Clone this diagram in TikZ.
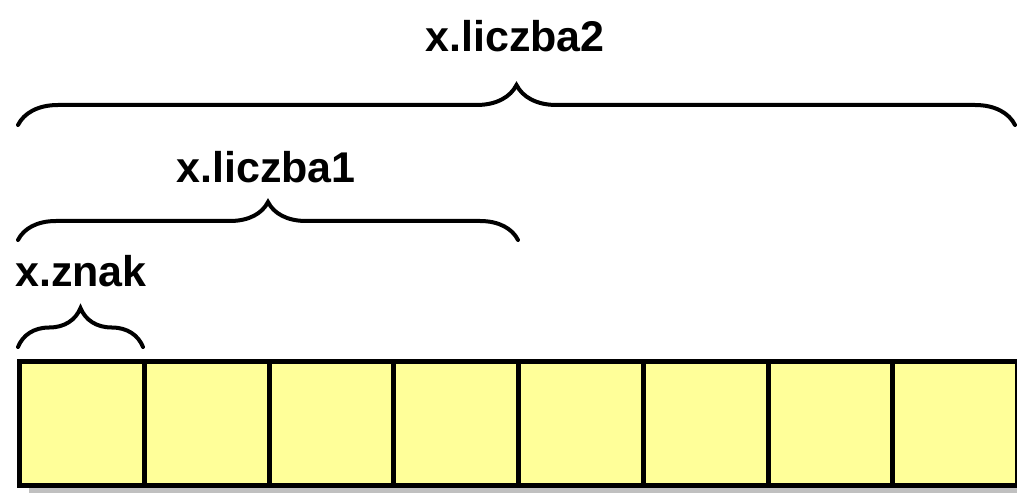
\documentclass[tikz,border=0pt]{standalone}
\usepackage{fontspec}
\setmainfont{Liberation Sans}
\usepackage{xcolor}
\usetikzlibrary{positioning,calc}
\usetikzlibrary{decorations.pathreplacing}

\definecolor{cellfill}{RGB}{255,255,153}
\definecolor{shadowgray}{RGB}{192,192,192}
\tikzset{
  cell/.style={draw, line width=2.5pt, fill=cellfill, minimum width=62.375pt,
    minimum height=62pt, outer sep=0pt, inner sep=0pt},
  bracket/.style={decorate, decoration={brace, amplitude=#1}, line width=2pt, line cap=round},
  fieldname/.style={font=\bfseries\fontsize{21.5}{26}\selectfont, anchor=base, inner sep=0pt},
}

\begin{document}
\begin{tikzpicture}[x=0.5pt, y=0.5pt]
  \useasboundingbox (0,0) rectangle (1017,493);
  \fill[shadowgray] (29,0) rectangle (1030,120);
  \node[cell] (c1) at (81.9,69.5) {};
  \node[cell, right=0pt of c1] (c2) {};
  \node[cell, right=0pt of c2] (c3) {};
  \node[cell, right=0pt of c3] (c4) {};
  \node[cell, right=0pt of c4] (c5) {};
  \node[cell, right=0pt of c5] (c6) {};
  \node[cell, right=0pt of c6] (c7) {};
  \node[cell, right=0pt of c7] (c8) {};

  \coordinate (znakL) at (18,146);
  \coordinate (znakR) at (143,146);
   \draw[bracket=19.5pt] (znakL) -- (znakR);
  \node[fieldname] (znak) at (81,206) {x.znak};

  \coordinate (liczba1L) at (18,253);
  \coordinate (liczba1R) at (518,253);
   \draw[bracket=19pt] (liczba1L) -- (liczba1R);
  \node[fieldname] (liczba1) at (266,310) {x.liczba1};

  \coordinate (liczba2L) at (18,368);
  \coordinate (liczba2R) at (1015,368);
   \draw[bracket=20pt] (liczba2L) -- (liczba2R);
  \node[fieldname] (liczba2) at (515,441) {x.liczba2};
\end{tikzpicture}
\end{document}
